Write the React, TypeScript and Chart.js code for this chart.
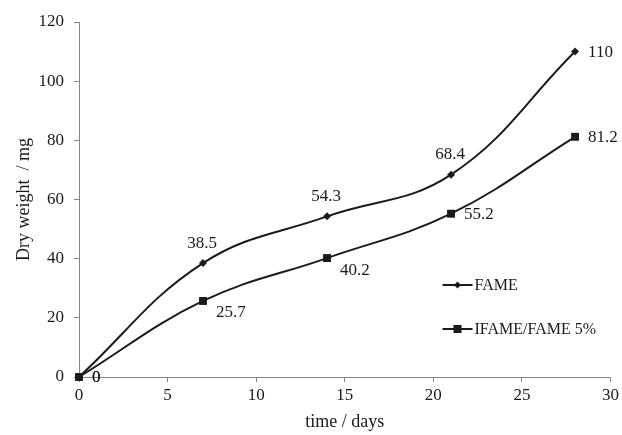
import React, { useEffect, useRef } from "react";
import { Chart, registerables } from "chart.js";

Chart.register(...registerables);

const days = [0, 7, 14, 21, 28];
const fame = [0, 38.5, 54.3, 68.4, 110];
const ifame = [0, 25.7, 40.2, 55.2, 81.2];
const seriesNames = ["FAME", "IFAME/FAME 5%"];
const xTitle = "time / days";
const yTitle = "Dry weight  / mg";

const fameLabelPos = ["right", "above", "above", "above", "right"];
const ifameLabelPos = ["right", "belowRight", "belowRight", "right", "right"];

const FONT = "'Liberation Serif', 'Times New Roman', serif";
const AXIS = "#868686";
const INK = "#1a1a1a";

const labelPlugin = {
  id: "pointLabels",
  afterDatasetsDraw(chart: any) {
    const ctx = chart.ctx;
    const positions = [fameLabelPos, ifameLabelPos];
    ctx.save();
    ctx.font = `17px ${FONT}`;
    ctx.fillStyle = INK;
    ctx.textBaseline = "middle";
    chart.data.datasets.forEach((ds: any, di: number) => {
      const meta = chart.getDatasetMeta(di);
      meta.data.forEach((el: any, i: number) => {
        const v = ds.data[i].y;
        const txt = String(v);
        const pos = positions[di][i];
        if (pos === "above") {
          ctx.textAlign = "center";
          ctx.fillText(txt, el.x - 1, el.y - 20);
        } else if (pos === "belowRight") {
          ctx.textAlign = "left";
          ctx.fillText(txt, el.x + 13, el.y + 12);
        } else {
          ctx.textAlign = "left";
          ctx.fillText(txt, el.x + 13, el.y + 1);
        }
      });
    });
    ctx.restore();
  },
};

const legendPlugin = {
  id: "innerLegend",
  afterDraw(chart: any) {
    const ctx = chart.ctx;
    const area = chart.chartArea;
    const x0 = area.right - 168;
    const rows = [area.top + 263, area.top + 307];
    ctx.save();
    chart.data.datasets.forEach((ds: any, i: number) => {
      const y = rows[i];
      ctx.strokeStyle = INK;
      ctx.lineWidth = 2;
      ctx.beginPath();
      ctx.moveTo(x0, y);
      ctx.lineTo(x0 + 30, y);
      ctx.stroke();
      ctx.fillStyle = INK;
      if (i === 0) {
        ctx.beginPath();
        ctx.moveTo(x0 + 15, y - 3.5);
        ctx.lineTo(x0 + 18.5, y);
        ctx.lineTo(x0 + 15, y + 3.5);
        ctx.lineTo(x0 + 11.5, y);
        ctx.closePath();
        ctx.fill();
      } else {
        ctx.fillRect(x0 + 11, y - 4, 8, 8);
      }
      ctx.font = `16px ${FONT}`;
      ctx.textAlign = "left";
      ctx.textBaseline = "middle";
      ctx.fillText(ds.label, x0 + 32, y + 1);
    });
    ctx.restore();
  },
};

export default function App() {
  const ref = useRef<HTMLCanvasElement>(null);
  useEffect(() => {
    document.body.style.margin = "0";
    const canvas = ref.current!;
    const chart = new Chart(canvas, {
      type: "line",
      data: {
        datasets: [
          {
            label: seriesNames[0],
            data: days.map((d, i) => ({ x: d, y: fame[i] })),
            borderColor: INK,
            backgroundColor: INK,
            borderWidth: 2,
            tension: 0.4,
            pointStyle: "rectRot",
            pointRadius: 4,
            pointBorderWidth: 0,
            clip: false,
          },
          {
            label: seriesNames[1],
            data: days.map((d, i) => ({ x: d, y: ifame[i] })),
            borderColor: INK,
            backgroundColor: INK,
            borderWidth: 2,
            tension: 0.4,
            pointStyle: "rect",
            pointRadius: 5.6,
            pointBorderWidth: 0,
            clip: false,
          },
        ],
      },
      options: {
        animation: false,
        responsive: false,
        devicePixelRatio: 1,
        layout: { padding: { top: 22, right: 11, bottom: 0, left: 0 } },
        plugins: {
          legend: { display: false },
          tooltip: { enabled: false },
        },
        scales: {
          x: {
            type: "linear",
            min: 0,
            max: 30,
            ticks: {
              stepSize: 5,
              color: INK,
              font: { family: FONT, size: 17 },
              padding: 3,
              maxRotation: 0,
            },
            grid: {
              display: true,
              drawOnChartArea: false,
              drawTicks: true,
              tickLength: 5,
              color: AXIS,
            },
            border: { display: true, color: AXIS, width: 1 },
            title: {
              display: true,
              text: xTitle,
              color: INK,
              font: { family: FONT, size: 18 },
              padding: { top: 0, bottom: 2 },
            },
            afterFit(scale: any) {
              scale.height = 58;
            },
          },
          y: {
            type: "linear",
            min: 0,
            max: 120,
            ticks: {
              stepSize: 20,
              color: INK,
              font: { family: FONT, size: 17 },
              padding: 10,
            },
            grid: {
              display: true,
              drawOnChartArea: false,
              drawTicks: true,
              tickLength: 5,
              color: AXIS,
            },
            border: { display: true, color: AXIS, width: 1 },
            title: {
              display: true,
              text: yTitle,
              color: INK,
              font: { family: FONT, size: 18 },
              padding: { top: 13, bottom: 0 },
            },
            afterFit(scale: any) {
              scale.width = 79;
            },
          },
        },
      },
      plugins: [labelPlugin, legendPlugin],
    } as any);
    return () => chart.destroy();
  }, []);
  return (
    <div style={{ width: 622, height: 435, background: "#fff" }}>
      <canvas ref={ref} width={622} height={435} style={{ display: "block" }} />
    </div>
  );
}
